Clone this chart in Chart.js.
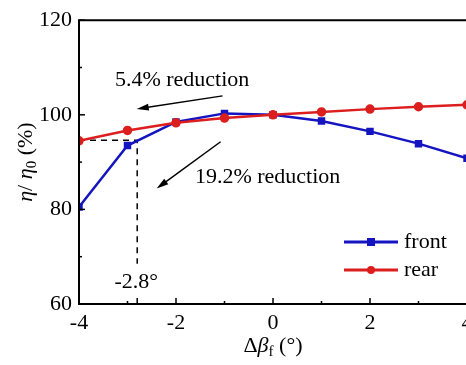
<!DOCTYPE html>
<html>
<head>
<meta charset="utf-8">
<script src="https://cdn.jsdelivr.net/npm/chart.js@4"></script>
<style>
html, body { margin: 0; padding: 0; background: #fff; overflow: hidden; }
#wrap { position: relative; width: 490px; height: 365px; }
</style>
</head>
<body>
<div id="wrap"><canvas id="efficiency"></canvas></div>
<script>
// data
var deltaBeta = [-4, -3, -2, -1, 0, 1, 2, 3, 4];
var frontEff = [80.5, 93.5, 98.5, 100.3, 100, 98.7, 96.5, 93.9, 90.8];
var rearEff = [94.5, 96.7, 98.3, 99.3, 100, 100.6, 101.2, 101.7, 102.1];
var xTicks = [-4, -2, 0, 2, 4];
var xMinor = [-3, -1, 1, 3];
var yTicks = [60, 80, 100, 120];
var yMinor = [70, 90, 110];
var cutAngle = -2.8;
var cutEff = 94.6;

var FONT = "'Liberation Serif', 'Times New Roman', serif";
var BLUE = '#1414c0';
var RED = '#dc1e1e';

var toPoints = function (xs, ys) {
    return xs.map(function (x, i) { return { x: x, y: ys[i] }; });
};

// text drawn with mixed italic / subscript parts
var drawRich = function (ctx, parts, cx, cy) {
    var size = 22, subSize = 15;
    var fontOf = function (p) {
        return (p.i ? 'italic ' : '') + (p.sub ? subSize : size) + 'px ' + FONT;
    };
    var w = 0;
    parts.forEach(function (p) { ctx.font = fontOf(p); w += ctx.measureText(p.t).width; });
    var x = cx - w / 2;
    ctx.textBaseline = 'middle';
    ctx.textAlign = 'left';
    parts.forEach(function (p) {
        ctx.font = fontOf(p);
        ctx.fillText(p.t, x, cy + (p.sub ? 6 : 0));
        x += ctx.measureText(p.t).width;
    });
};

var arrow = function (ctx, x1, y1, x2, y2) {
    var a = Math.atan2(y2 - y1, x2 - x1);
    var len = 12, half = 3.5;
    ctx.beginPath();
    ctx.moveTo(x1, y1);
    ctx.lineTo(x2 - len * Math.cos(a) * 0.8, y2 - len * Math.sin(a) * 0.8);
    ctx.stroke();
    ctx.beginPath();
    ctx.moveTo(x2, y2);
    ctx.lineTo(x2 - len * Math.cos(a) + half * Math.sin(a), y2 - len * Math.sin(a) - half * Math.cos(a));
    ctx.lineTo(x2 - len * Math.cos(a) - half * Math.sin(a), y2 - len * Math.sin(a) + half * Math.cos(a));
    ctx.closePath();
    ctx.fill();
};

// notes in data units
var notes = [
    { text: '5.4% reduction', x: -3.26, y: 107.3 },
    { text: '19.2% reduction', x: -1.61, y: 86.7 },
    { text: '-2.8\u00b0', x: -3.27, y: 64.6 }
];
var arrows = [
    { from: [-1.04, 104.0], to: [-2.81, 101.25] },
    { from: [-1.08, 94.3], to: [-2.40, 84.4] }
];

var decorations = {
    id: 'decorations',
    afterDraw: function (chart) {
        var ctx = chart.ctx;
        var xs = chart.scales.x, ys = chart.scales.y;
        var area = chart.chartArea;
        ctx.save();
        ctx.strokeStyle = '#000';
        ctx.fillStyle = '#000';

        // frame
        ctx.lineWidth = 2;
        ctx.beginPath();
        ctx.moveTo(area.right, area.top);
        ctx.lineTo(area.left, area.top);
        ctx.lineTo(area.left, area.bottom);
        ctx.lineTo(area.right, area.bottom);
        ctx.stroke();

        // inward ticks
        ctx.lineWidth = 1.5;
        var tick = function (vals, len, horiz) {
            vals.forEach(function (v) {
                ctx.beginPath();
                if (horiz) {
                    var px = xs.getPixelForValue(v);
                    ctx.moveTo(px, area.bottom);
                    ctx.lineTo(px, area.bottom - len);
                } else {
                    var py = ys.getPixelForValue(v);
                    ctx.moveTo(area.left, py);
                    ctx.lineTo(area.left + len, py);
                }
                ctx.stroke();
            });
        };
        tick(xTicks, 6, true);
        tick(xMinor, 3, true);
        tick([cutAngle], 6, true);
        tick(yTicks, 6, false);
        tick(yMinor, 3, false);

        // notes and arrows
        ctx.font = '22px ' + FONT;
        ctx.textAlign = 'left';
        ctx.textBaseline = 'middle';
        notes.forEach(function (n) {
            ctx.fillText(n.text, xs.getPixelForValue(n.x), ys.getPixelForValue(n.y));
        });
        ctx.lineWidth = 1.5;
        arrows.forEach(function (a) {
            arrow(ctx,
                xs.getPixelForValue(a.from[0]), ys.getPixelForValue(a.from[1]),
                xs.getPixelForValue(a.to[0]), ys.getPixelForValue(a.to[1]));
        });

        // legend
        [0, 1].forEach(function (i) {
            var ds = chart.data.datasets[i];
            var ly = 242 + i * 28;
            ctx.strokeStyle = ds.borderColor;
            ctx.fillStyle = ds.borderColor;
            ctx.lineWidth = 3;
            ctx.beginPath();
            ctx.moveTo(344, ly);
            ctx.lineTo(398, ly);
            ctx.stroke();
            if (ds.pointStyle === 'rect') {
                ctx.fillRect(367, ly - 4, 8, 8);
            } else {
                ctx.beginPath();
                ctx.arc(371, ly, 4, 0, Math.PI * 2);
                ctx.fill();
            }
            ctx.fillStyle = '#000';
            ctx.font = '22px ' + FONT;
            ctx.textAlign = 'left';
            ctx.textBaseline = 'middle';
            ctx.fillText(ds.label, 404, ly);
        });

        // axis titles
        ctx.fillStyle = '#000';
        drawRich(ctx, [{ t: '\u0394' }, { t: '\u03b2', i: true }, { t: 'f', sub: true }, { t: ' (\u00b0)' }],
            (area.left + area.right) / 2, 346);
        ctx.translate(26, (area.top + area.bottom) / 2);
        ctx.rotate(-Math.PI / 2);
        drawRich(ctx, [{ t: '\u03b7', i: true }, { t: '/ ' }, { t: '\u03b7', i: true }, { t: '0', sub: true }, { t: ' (%)' }], 0, 0);
        ctx.restore();
    }
};

var chart = new Chart('efficiency', {
    type: 'line',
    data: {
        datasets: [{
            label: 'front',
            data: toPoints(deltaBeta, frontEff),
            borderColor: BLUE,
            backgroundColor: BLUE,
            borderWidth: 2.5,
            pointStyle: 'rect',
            pointRadius: 3.5,
            order: 2
        }, {
            label: 'rear',
            data: toPoints(deltaBeta, rearEff),
            borderColor: RED,
            backgroundColor: RED,
            borderWidth: 2.5,
            pointStyle: 'circle',
            pointRadius: 3.5,
            order: 1
        }, {
            label: 'cut',
            data: [{ x: -4, y: cutEff }, { x: cutAngle, y: cutEff }, { x: cutAngle, y: 68.5 }],
            borderColor: '#000',
            borderWidth: 1.5,
            borderDash: [6, 5],
            pointRadius: 0,
            order: 3
        }]
    },
    options: {
        responsive: true,
        maintainAspectRatio: false,
        animation: false,
        devicePixelRatio: 1,
        layout: { padding: { top: 16, right: 23, left: 0, bottom: 0 } },
        plugins: {
            legend: { display: false },
            tooltip: { enabled: false }
        },
        scales: {
            x: {
                type: 'linear',
                min: -4,
                max: 4,
                afterBuildTicks: function (scale) {
                    scale.ticks = xTicks.map(function (v) { return { value: v }; });
                },
                afterFit: function (scale) { scale.height = 61; },
                grid: { display: false, drawTicks: false },
                border: { display: false },
                ticks: { padding: 6, color: '#000', font: { family: FONT, size: 22 } }
            },
            y: {
                min: 60,
                max: 120,
                afterBuildTicks: function (scale) {
                    scale.ticks = yTicks.map(function (v) { return { value: v }; });
                },
                afterFit: function (scale) { scale.width = 79; },
                grid: { display: false, drawTicks: false },
                border: { display: false },
                ticks: { padding: 7, color: '#000', font: { family: FONT, size: 22 } }
            }
        }
    },
    plugins: [decorations]
});
</script>
</body>
</html>
